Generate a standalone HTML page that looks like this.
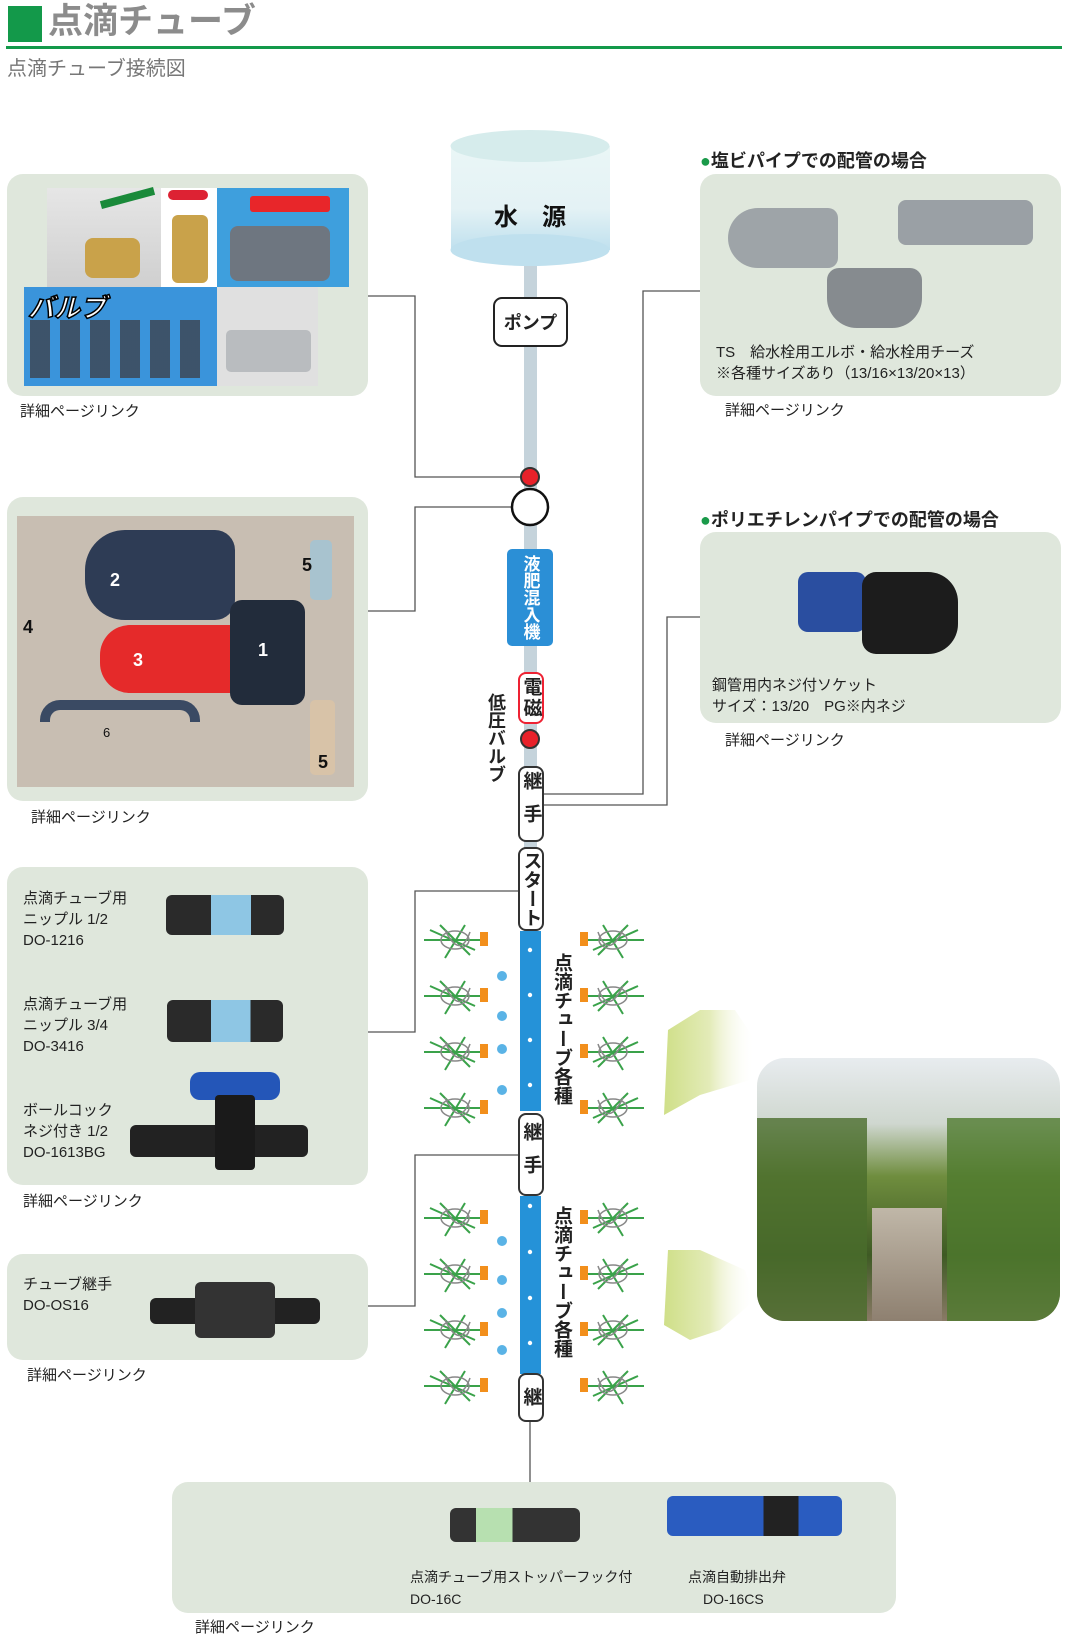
<!DOCTYPE html>
<html><head><meta charset="utf-8">
<style>
*{margin:0;padding:0;box-sizing:border-box}
body{width:1070px;height:1632px;position:relative;background:#fff;font-family:"Liberation Sans","Noto Sans CJK JP",sans-serif;overflow:hidden;color:#222}
.a{position:absolute}
.panel{position:absolute;background:#dfe7dc;border-radius:16px}
.link{position:absolute;font-size:15px;color:#222}
.vbox{position:absolute;background:#fff;border:2px solid #333;border-radius:8px;writing-mode:vertical-rl;font-weight:bold;font-size:19px;text-align:center;display:flex;align-items:center;justify-content:center;letter-spacing:2px}
.t{font-size:15px;line-height:21px;color:#222}
.vt{position:absolute;writing-mode:vertical-rl;font-weight:bold;font-size:19px;color:#222;letter-spacing:0}
.h{position:absolute;font-weight:bold;font-size:18px;color:#222}
.h b{color:#1a9a4a}
</style></head><body>
<div class="a" style="left:8px;top:6px;width:34px;height:36px;background:#13994a"></div>
<div class="a" style="left:48px;top:0px;font-size:35px;color:#8c8c8c;font-weight:bold;line-height:44px">点滴チューブ</div>
<div class="a" style="left:6px;top:46px;width:1056px;height:3px;background:#13994a"></div>
<div class="a" style="left:7px;top:52px;font-size:20px;color:#777">点滴チューブ接続図</div>

<svg class="a" style="left:0;top:0" width="1070" height="1632">
<g stroke="#555" stroke-width="1.3" fill="none">
<polyline points="368,296 415,296 415,477 520,477"/>
<polyline points="368,611 415,611 415,507 512,507"/>
<polyline points="368,1032 415,1032 415,891 520,891"/>
<polyline points="368,1306 415,1306 415,1155 520,1155"/>
<polyline points="700,291 643,291 643,794 543,794"/>
<polyline points="700,617 667,617 667,805 543,805"/>
<line x1="530" y1="1422" x2="530" y2="1482"/>
</g>
<rect x="524" y="262" width="13" height="670" fill="#c5d3db"/>
<defs><linearGradient id="tk" x1="0" y1="0" x2="0" y2="1"><stop offset="0" stop-color="#eaf6f6"/><stop offset="0.6" stop-color="#e4f2f5"/><stop offset="1" stop-color="#bfe0ee"/></linearGradient>
<linearGradient id="ar" x1="1" y1="0.5" x2="0" y2="0.5"><stop offset="0" stop-color="#fff" stop-opacity="0"/><stop offset="0.5" stop-color="#e3ebb8"/><stop offset="1" stop-color="#cfdf88"/></linearGradient></defs>
<rect x="451" y="146" width="159" height="104" fill="url(#tk)"/>
<ellipse cx="530" cy="250" rx="79.5" ry="16" fill="#bfe0ee"/>
<ellipse cx="530" cy="146" rx="79.5" ry="16" fill="#d6ecec"/>
<text x="530" y="225" font-size="24" font-weight="bold" text-anchor="middle" fill="#111" font-family="Liberation Sans,Noto Sans CJK JP,sans-serif">水　源</text>
<circle cx="530" cy="477" r="9" fill="#e8212a" stroke="#333" stroke-width="2"/>
<circle cx="530" cy="507" r="18" fill="#fff" stroke="#111" stroke-width="2.5"/>
<circle cx="530" cy="739" r="9" fill="#e8212a" stroke="#333" stroke-width="2"/>
<rect x="520" y="931" width="21" height="180" fill="#2592d8"/>
<rect x="520" y="1196" width="21" height="178" fill="#2592d8"/>
<g fill="#fff"><circle cx="530" cy="950" r="2.2"/><circle cx="530" cy="995" r="2.2"/><circle cx="530" cy="1040" r="2.2"/><circle cx="530" cy="1085" r="2.2"/>
<circle cx="530" cy="1206" r="2.2"/><circle cx="530" cy="1252" r="2.2"/><circle cx="530" cy="1298" r="2.2"/><circle cx="530" cy="1343" r="2.2"/></g>
<polygon points="664,1115 668,1030 700,1010 735,1010 755,1040 750,1080 700,1095" fill="url(#ar)"/>
<polygon points="664,1325 668,1250 700,1250 745,1270 755,1300 720,1330 690,1340" fill="url(#ar)"/>
<g id="pl">
<g stroke="#3aa24a" stroke-width="2" fill="none"><path d="M424,940 L480,940 M440,925 L470,955 M445,958 L465,925 M430,930 L475,950"/></g>
<g stroke="#888" stroke-width="1.5" fill="none"><ellipse cx="455" cy="940" rx="14" ry="9"/><path d="M445,930 Q460,960 470,932"/></g>
<rect x="480" y="932" width="8" height="14" fill="#f28f1c"/>
</g>
<use href="#pl" y="56"/><use href="#pl" y="112"/><use href="#pl" y="168"/>
<use href="#pl" y="278"/><use href="#pl" y="334"/><use href="#pl" y="390"/><use href="#pl" y="446"/>
<g transform="translate(1070,0) scale(-1,1)">
<use href="#pl" x="2"/><use href="#pl" x="2" y="56"/><use href="#pl" x="2" y="112"/><use href="#pl" x="2" y="168"/>
<use href="#pl" x="2" y="278"/><use href="#pl" x="2" y="334"/><use href="#pl" x="2" y="390"/><use href="#pl" x="2" y="446"/></g>
<g fill="#5ab3e6"><circle cx="502" cy="976" r="5"/><circle cx="502" cy="1016" r="5"/><circle cx="502" cy="1049" r="5"/><circle cx="502" cy="1090" r="5"/>
<circle cx="502" cy="1241" r="5"/><circle cx="502" cy="1280" r="5"/><circle cx="502" cy="1313" r="5"/><circle cx="502" cy="1350" r="5"/></g>
</svg>

<div class="a" style="left:493px;top:297px;width:75px;height:50px;background:#fff;border:2px solid #222;border-radius:9px;font-weight:bold;font-size:18px;display:flex;align-items:center;justify-content:center">ポンプ</div>
<div class="vbox" style="left:507px;top:549px;width:46px;height:97px;background:#2b8fd6;color:#fff;border:none;border-radius:5px;font-size:17px;letter-spacing:0;line-height:1">液肥混入機</div>
<div class="vbox" style="left:518px;top:672px;width:26px;height:52px;border-color:#e23">電磁</div>
<div class="vt" style="left:483px;top:693px;font-size:18px">低圧バルブ</div>
<div class="vbox" style="left:518px;top:766px;width:26px;height:76px;letter-spacing:14px">継手</div>
<div class="vbox" style="left:518px;top:847px;width:26px;height:84px;letter-spacing:0">スタート</div>
<div class="vbox" style="left:518px;top:1113px;width:26px;height:83px;letter-spacing:14px">継手</div>
<div class="vbox" style="left:518px;top:1373px;width:26px;height:49px">継</div>
<div class="vt" style="left:548px;top:953px">点滴チューブ各種</div>
<div class="vt" style="left:548px;top:1206px">点滴チューブ各種</div>

<!-- left panels -->
<div class="panel" style="left:7px;top:174px;width:361px;height:222px"></div>
<div class="a" style="left:47px;top:188px;width:114px;height:99px;background:linear-gradient(#e6e6e6,#cfcfcf)"></div>
<div class="a" style="left:85px;top:238px;width:55px;height:40px;background:#c9a24a;border-radius:8px"></div>
<div class="a" style="left:100px;top:194px;width:55px;height:8px;background:#1a8a3a;transform:rotate(-15deg)"></div>
<div class="a" style="left:161px;top:188px;width:56px;height:99px;background:#fff"></div>
<div class="a" style="left:172px;top:215px;width:36px;height:68px;background:#c9a24a;border-radius:6px"></div>
<div class="a" style="left:168px;top:190px;width:40px;height:10px;background:#d23;border-radius:5px"></div>
<div class="a" style="left:217px;top:188px;width:132px;height:99px;background:#3e9fdd"></div>
<div class="a" style="left:230px;top:226px;width:100px;height:55px;background:#6e7680;border-radius:8px"></div>
<div class="a" style="left:250px;top:196px;width:80px;height:16px;background:#e8262a;border-radius:3px"></div>
<div class="a" style="left:24px;top:287px;width:193px;height:99px;background:#3a94db"></div>
<div class="a" style="left:30px;top:320px;width:180px;height:58px;background:repeating-linear-gradient(90deg,#3d4c5e 0 20px,#3a94db 20px 30px);opacity:.9"></div>
<div class="a" style="left:28px;top:288px;font-size:26px;font-weight:bold;font-style:italic;color:#fff;-webkit-text-stroke:1.5px #000">バルブ</div>
<div class="a" style="left:217px;top:287px;width:101px;height:99px;background:#e0e0e0"></div>
<div class="a" style="left:226px;top:330px;width:85px;height:42px;background:#b9bcbf;border-radius:5px"></div>
<div class="link" style="left:20px;top:400px">詳細ページリンク</div>

<div class="panel" style="left:7px;top:497px;width:361px;height:304px"></div>
<div class="a" style="left:17px;top:516px;width:337px;height:271px;background:#c8beb2"></div>
<div class="a" style="left:85px;top:530px;width:150px;height:90px;background:#2e3c55;border-radius:40px 20px 20px 40px"></div>
<div class="a" style="left:100px;top:625px;width:140px;height:68px;background:#e52a2a;border-radius:30px 4px 4px 30px"></div>
<div class="a" style="left:230px;top:600px;width:75px;height:105px;background:#222c3b;border-radius:12px"></div>
<div class="a" style="left:40px;top:700px;width:160px;height:22px;border:10px solid #3a4a63;border-bottom:none;border-radius:20px 20px 0 0"></div>
<div class="a" style="left:310px;top:540px;width:22px;height:60px;background:#a8c3cf;border-radius:5px"></div>
<div class="a" style="left:310px;top:700px;width:25px;height:75px;background:#d8c3a8;border-radius:5px"></div>
<div class="a" style="left:110px;top:570px;color:#fff;font-weight:bold;font-size:18px">2</div>
<div class="a" style="left:133px;top:650px;color:#fff;font-weight:bold;font-size:18px">3</div>
<div class="a" style="left:258px;top:640px;color:#fff;font-weight:bold;font-size:18px">1</div>
<div class="a" style="left:23px;top:617px;color:#111;font-weight:bold;font-size:18px">4</div>
<div class="a" style="left:302px;top:555px;color:#111;font-weight:bold;font-size:18px">5</div>
<div class="a" style="left:318px;top:752px;color:#111;font-weight:bold;font-size:18px">5</div>
<div class="a" style="left:103px;top:725px;color:#111;font-size:13px">6</div>
<div class="link" style="left:31px;top:806px">詳細ページリンク</div>

<div class="panel" style="left:7px;top:867px;width:361px;height:318px"></div>
<div class="a t" style="left:23px;top:888px">点滴チューブ用<br>ニップル 1/2<br>DO-1216</div>
<div class="a t" style="left:23px;top:994px">点滴チューブ用<br>ニップル 3/4<br>DO-3416</div>
<div class="a t" style="left:23px;top:1100px">ボールコック<br>ネジ付き 1/2<br>DO-1613BG</div>
<div class="a" style="left:166px;top:895px;width:118px;height:40px;background:linear-gradient(90deg,#2a2a2a 0 38%,#8ec6e4 38% 72%,#2a2a2a 72%);border-radius:6px"></div>
<div class="a" style="left:167px;top:1000px;width:116px;height:42px;background:linear-gradient(90deg,#2a2a2a 0 38%,#8ec6e4 38% 72%,#2a2a2a 72%);border-radius:6px"></div>
<div class="a" style="left:190px;top:1072px;width:90px;height:28px;background:#2456b8;border-radius:10px"></div>
<div class="a" style="left:130px;top:1125px;width:178px;height:32px;background:#222;border-radius:6px"></div>
<div class="a" style="left:215px;top:1095px;width:40px;height:75px;background:#1a1a1a;border-radius:4px"></div>
<div class="link" style="left:23px;top:1190px">詳細ページリンク</div>

<div class="panel" style="left:7px;top:1254px;width:361px;height:106px"></div>
<div class="a t" style="left:23px;top:1274px">チューブ継手<br>DO-OS16</div>
<div class="a" style="left:150px;top:1298px;width:170px;height:26px;background:#222;border-radius:6px"></div>
<div class="a" style="left:195px;top:1282px;width:80px;height:56px;background:#333;border-radius:6px"></div>
<div class="link" style="left:27px;top:1364px">詳細ページリンク</div>

<!-- bottom -->
<div class="panel" style="left:172px;top:1482px;width:724px;height:131px"></div>
<div class="a" style="left:450px;top:1508px;width:130px;height:34px;background:linear-gradient(90deg,#333 0 20%,#b7e0b0 20% 48%,#333 48%);border-radius:6px"></div>
<div class="a" style="left:667px;top:1496px;width:175px;height:40px;background:linear-gradient(90deg,#2a5cc0 0 55%,#222 55% 75%,#2a5cc0 75%);border-radius:6px"></div>
<div class="a" style="left:410px;top:1567px;font-size:14px">点滴チューブ用ストッパーフック付</div>
<div class="a" style="left:410px;top:1591px;font-size:14px">DO-16C</div>
<div class="a" style="left:688px;top:1567px;font-size:14px">点滴自動排出弁</div>
<div class="a" style="left:703px;top:1591px;font-size:14px">DO-16CS</div>
<div class="link" style="left:195px;top:1616px">詳細ページリンク</div>

<!-- right -->
<div class="h" style="left:700px;top:147px"><b>●</b>塩ビパイプでの配管の場合</div>
<div class="panel" style="left:700px;top:174px;width:361px;height:222px"></div>
<div class="a" style="left:728px;top:208px;width:110px;height:60px;background:#9ea4a8;border-radius:30px 10px 10px 30px"></div>
<div class="a" style="left:898px;top:200px;width:135px;height:45px;background:#9aa0a5;border-radius:8px"></div>
<div class="a" style="left:827px;top:268px;width:95px;height:60px;background:#868b8f;border-radius:12px 12px 30px 30px"></div>
<div class="a t" style="left:716px;top:342px">TS　給水栓用エルボ・給水栓用チーズ<br>※各種サイズあり（13/16×13/20×13）</div>
<div class="link" style="left:725px;top:399px">詳細ページリンク</div>

<div class="h" style="left:700px;top:506px"><b>●</b>ポリエチレンパイプでの配管の場合</div>
<div class="panel" style="left:700px;top:532px;width:361px;height:191px"></div>
<div class="a" style="left:798px;top:572px;width:68px;height:60px;background:#2a4ea0;border-radius:10px"></div>
<div class="a" style="left:862px;top:572px;width:96px;height:82px;background:#1c1c1c;border-radius:14px 30px 30px 14px"></div>
<div class="a t" style="left:712px;top:675px">鋼管用内ネジ付ソケット<br>サイズ：13/20　PG※内ネジ</div>
<div class="link" style="left:725px;top:729px">詳細ページリンク</div>

<div class="a" style="left:757px;top:1058px;width:303px;height:263px;border-radius:28px;overflow:hidden;background:linear-gradient(180deg,#e8ecef 0%,#cfd7cf 25%,#6f8d3e 45%,#3e5a24 75%,#8a7a66 100%)">
<div class="a" style="left:115px;top:150px;width:70px;height:113px;background:linear-gradient(#c0b7a8,#8e8070)"></div>
<div class="a" style="left:0;top:60px;width:110px;height:203px;background:#4a6d2c;opacity:.8"></div>
<div class="a" style="left:190px;top:60px;width:113px;height:203px;background:#4f7a2e;opacity:.8"></div>
</div>
</body></html>
